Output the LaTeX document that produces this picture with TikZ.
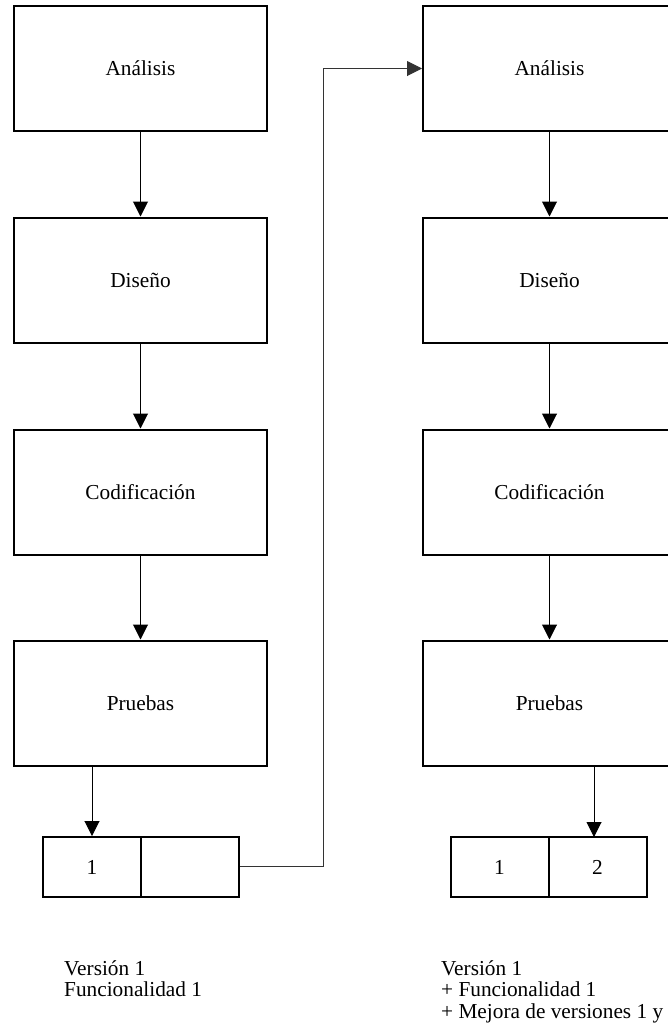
\documentclass[tikz,border=0pt]{standalone}
\usepackage{fontspec}
\setmainfont{Liberation Serif}
\usetikzlibrary{arrows.meta}
\begin{document}
\begin{tikzpicture}[x=1pt,y=-1pt,
  box/.style={draw, line width=2pt, minimum width=253pt, minimum height=125pt, inner sep=0pt, font=\fontsize{21.3}{25}\selectfont},
  small/.style={draw, line width=2pt, minimum width=98pt, minimum height=60pt, inner sep=0pt, font=\fontsize{21.3}{25}\selectfont},
  arr/.style={line width=1pt, -{Triangle[length=15pt,width=15pt]}},
  conn/.style={line width=1pt, draw=black!80, -{Triangle[length=15pt,width=15pt]}},
  note/.style={align=left, anchor=north west, inner sep=0pt, font=\fontsize{21.3}{21.5}\selectfont}]
\useasboundingbox (0,0) rectangle (668,1023);
\clip (0,0) rectangle (668,1023);
% left column
\node[box] (lA) at (140.5,68.5) {Análisis};
\node[box] (lD) at (140.5,280) {Diseño};
\node[box] (lC) at (140.5,492) {Codificación};
\node[box] (lP) at (140.5,703) {Pruebas};
\node[small] (ls1) at (92,867) {1};
\node[small] (ls2) at (190,867) {};
% right column
\node[box] (rA) at (549.5,68.5) {Análisis};
\node[box] (rD) at (549.5,280) {Diseño};
\node[box] (rC) at (549.5,492) {Codificación};
\node[box] (rP) at (549.5,703) {Pruebas};
\node[small] (rs1) at (499.5,867) {1};
\node[small] (rs2) at (597.5,867) {2};
% arrows
\draw[arr] (lA) -- (lD);
\draw[arr] (lD) -- (lC);
\draw[arr] (lC) -- (lP);
\draw[arr] (lP.south -| ls1.north) -- (ls1.north);
\draw[arr] (rA) -- (rD);
\draw[arr] (rD) -- (rC);
\draw[arr] (rC) -- (rP);
\draw[arr] (rP.south -| 594,0) -- (594,837);
% connector
\coordinate (turn) at (323,866);
\draw[conn] (ls2.east |- turn) -- (turn) |- (rA.west);
% notes
\node[note] (n1) at (64,960) {Versión 1\\Funcionalidad 1};
\node[note] (n2) at (441,960) {Versión 1\\+ Funcionalidad 1\\+ Mejora de versiones 1 y};
\end{tikzpicture}
\end{document}
